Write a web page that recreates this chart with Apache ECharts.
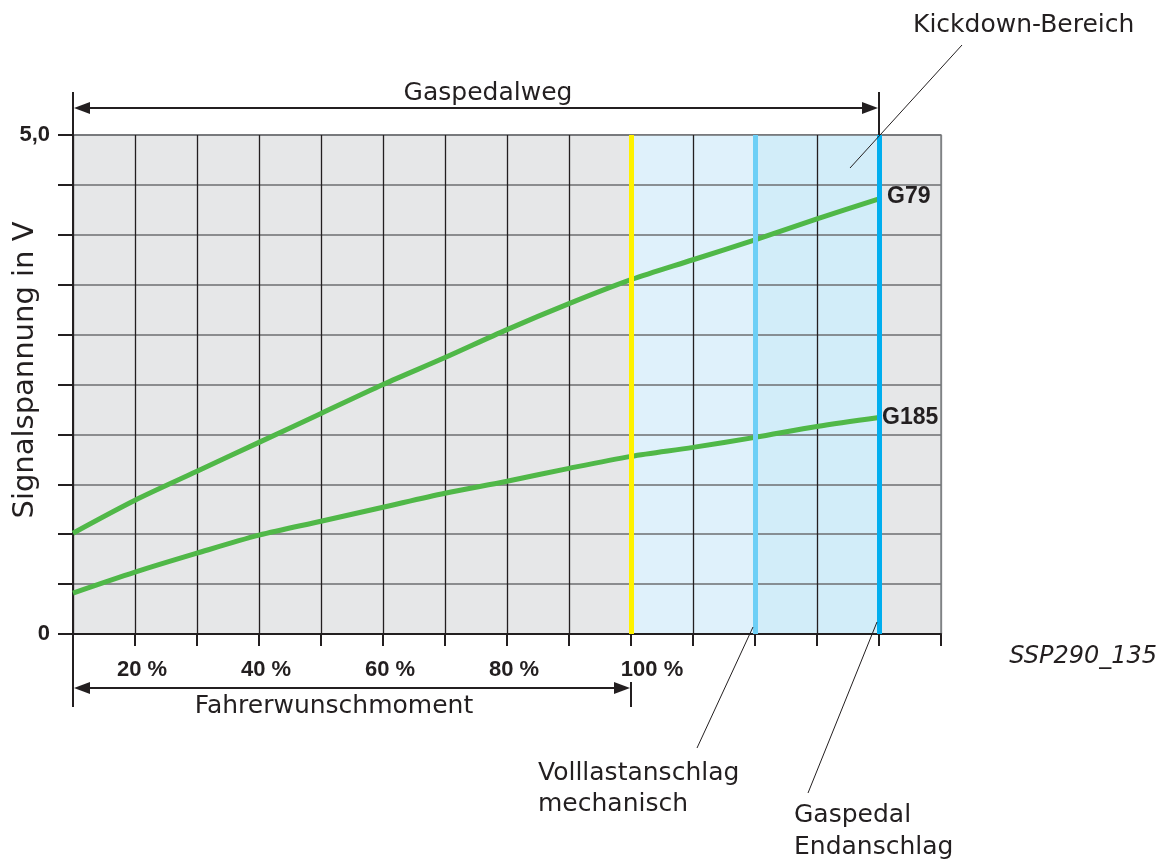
<!DOCTYPE html>
<html>
<head>
<meta charset="utf-8">
<script src="https://cdn.jsdelivr.net/npm/echarts@6/dist/echarts.min.js"></script>
<style>
html,body{margin:0;padding:0;background:#fff;}
#chart{width:1161px;height:859px;}
</style>
</head>
<body>
<div id="chart"></div>
<script>
// ---- data ----
const pedalTravel = [10, 20, 30, 40, 50, 60, 70, 80, 90, 100, 110, 120, 130, 140];
const g79Volts   = [1.01, 1.34, 1.63, 1.92, 2.21, 2.50, 2.77, 3.05, 3.31, 3.55, 3.75, 3.95, 4.16, 4.36];
const g185Volts  = [0.41, 0.62, 0.81, 0.99, 1.13, 1.27, 1.41, 1.53, 1.66, 1.78, 1.87, 1.97, 2.08, 2.17];
const xTickLabels = {20: '20 %', 40: '40 %', 60: '60 %', 80: '80 %', 100: '100 %'};
const yTickLabels = {0: '0', 5: '5,0'};
const fullLoadStop = 100;     // Volllastanschlag / Fahrerwunsch 100 %
const mechStop = 120;         // Volllastanschlag mechanisch
const pedalEndStop = 140;     // Gaspedal Endanschlag

const FONT = "'DejaVu Sans', 'Liberation Sans', sans-serif";
const BFONT = "'Liberation Sans', Arial, sans-serif";
const INK = '#231f20';

const chart = echarts.init(document.getElementById('chart'));

const vColors = [];
for (let i = 0; i < 15; i++) vColors.push(i === 14 ? '#808285' : INK);

const option = {
  animation: false,
  grid: {left: 73, top: 135, right: 220, bottom: 225, show: true,
         backgroundColor: '#e6e7e8', borderColor: '#808285', borderWidth: 1.5},
  xAxis: {
    type: 'value', min: 10, max: 150, interval: 10, z: 2,
    axisLine: {show: true, lineStyle: {color: INK, width: 2}},
    axisTick: {show: true, inside: false, length: 12, lineStyle: {color: INK, width: 2}},
    splitLine: {show: true, lineStyle: {color: vColors, width: 1.3}},
    axisLabel: {
      margin: 25, fontFamily: BFONT, fontWeight: 'bold', fontSize: 22, color: INK,
      formatter: v => {
        const t = xTickLabels[v];
        if (!t) return '';
        return v === 100 ? '{b|' + t + '}' : '{a|' + t + '}';
      },
      rich: {
        a: {fontFamily: BFONT, fontWeight: 'bold', fontSize: 22, color: INK, padding: [0, 0, 0, 14]},
        b: {fontFamily: BFONT, fontWeight: 'bold', fontSize: 22, color: INK, padding: [0, 0, 0, 42]}
      }
    }
  },
  yAxis: {
    type: 'value', min: 0, max: 5, interval: 0.5, z: 2,
    axisLine: {show: true, lineStyle: {color: INK, width: 2}},
    axisTick: {show: true, inside: false, length: 15, lineStyle: {color: INK, width: 2}},
    splitLine: {show: true, lineStyle: {color: '#6d6e71', width: 1.5}},
    axisLabel: {
      margin: 23, fontFamily: BFONT, fontWeight: 'bold', fontSize: 22, color: INK,
      formatter: v => yTickLabels[v] || ''
    }
  },
  series: [
    {
      name: 'zones', type: 'line', data: [], z: 1, silent: true,
      markArea: {
        silent: true,
        label: {show: false},
        data: [
          [{xAxis: fullLoadStop, itemStyle: {color: '#dff1fb'}}, {xAxis: mechStop}],
          [{xAxis: mechStop, itemStyle: {color: '#d2edf9'}}, {xAxis: pedalEndStop}]
        ]
      }
    },
    {
      name: 'stops', type: 'line', data: [], z: 3, silent: true,
      markLine: {
        silent: true, symbol: 'none', label: {show: false},
        data: [
          {xAxis: fullLoadStop, lineStyle: {color: '#fff200', width: 5, type: 'solid'}},
          {xAxis: mechStop, lineStyle: {color: '#6dcff6', width: 5, type: 'solid'}},
          {xAxis: pedalEndStop, lineStyle: {color: '#00aeef', width: 5, type: 'solid'}}
        ]
      }
    },
    {
      name: 'G79', type: 'line', z: 4, smooth: 0.3, showSymbol: false,
      data: pedalTravel.map((x, i) => [x, g79Volts[i]]),
      lineStyle: {color: '#50b848', width: 5},
      endLabel: {show: true, formatter: 'G79', fontFamily: BFONT, fontWeight: 'bold',
                 fontSize: 23, color: INK, distance: 8, offset: [0, -2]}
    },
    {
      name: 'G185', type: 'line', z: 4, smooth: 0.3, showSymbol: false,
      data: pedalTravel.map((x, i) => [x, g185Volts[i]]),
      lineStyle: {color: '#50b848', width: 5},
      endLabel: {show: true, formatter: 'G185', fontFamily: BFONT, fontWeight: 'bold',
                 fontSize: 23, color: INK, distance: 3, offset: [0, 0]}
    }
  ]
};
chart.setOption(option);

// ---- annotations computed from the axes ----
const px = v => chart.convertToPixel({xAxisIndex: 0}, v);
const py = v => chart.convertToPixel({yAxisIndex: 0}, v);
const x0 = px(10), x100 = px(fullLoadStop), x120 = px(mechStop), x140 = px(pedalEndStop);
const yTop = py(5), yBot = py(0);

function line(x1, y1, x2, y2, w) {
  return {type: 'line', z: 10, shape: {x1, y1, x2, y2}, style: {stroke: INK, lineWidth: w || 2}};
}
function arrowHead(x, y, dir) {
  const L = 16, H = 6;
  return {type: 'polygon', z: 10, shape: {points: [[x, y], [x - dir * L, y - H], [x - dir * L, y + H]]},
          style: {fill: INK}};
}
function text(t, x, y, opts) {
  return Object.assign({type: 'text', z: 10, x, y, style: Object.assign({
    text: t, fontFamily: FONT, fontSize: 25, fill: INK, textAlign: 'left', textVerticalAlign: 'middle'
  }, opts || {})});
}

const yArrowTop = 108, yArrowBot = 688;
const graphics = [
  // Gaspedalweg
  line(x0, 92, x0, yTop),
  line(x140, 92, x140, yTop),
  line(x0 + 4, yArrowTop, x140 - 4, yArrowTop),
  arrowHead(x0 + 1, yArrowTop, -1),
  arrowHead(x140 - 1, yArrowTop, 1),
  text('Gaspedalweg', 488, 93, {textAlign: 'center'}),
  // Fahrerwunschmoment
  line(x0, yBot, x0, 707),
  line(x100, 682, x100, 707),
  line(x0 + 4, yArrowBot, x100 - 4, yArrowBot),
  arrowHead(x0 + 1, yArrowBot, -1),
  arrowHead(x100 - 1, yArrowBot, 1),
  text('Fahrerwunschmoment', 334, 706, {textAlign: 'center'}),
  // leader lines
  line(850, 168, 962, 45, 1),
  line(x120 - 2, 627, 697, 748, 1),
  line(x140 - 2, 622, 808, 793, 1),
  text('Kickdown-Bereich', 913, 25),
  text('Volllastanschlag', 538, 773),
  text('mechanisch', 538, 804),
  text('Gaspedal', 794, 815),
  text('Endanschlag', 794, 847),
  text('SSP290_135', 1157, 657, {textAlign: 'right', fontStyle: 'italic', fontSize: 24}),
  // y axis title
  {type: 'text', z: 10, x: 25, y: 370, rotation: Math.PI / 2,
   style: {text: 'Signalspannung in V', fontFamily: FONT, fontSize: 29, fill: INK,
           textAlign: 'center', textVerticalAlign: 'middle'}}
];
chart.setOption({graphic: graphics});
</script>
</body>
</html>
